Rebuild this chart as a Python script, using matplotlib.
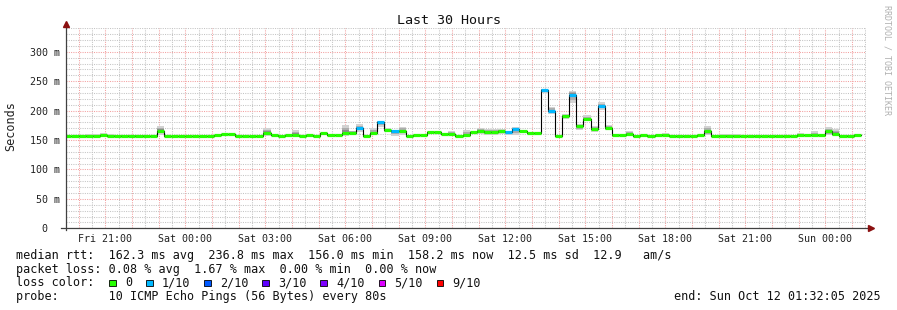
import datetime as dt
import matplotlib
matplotlib.use("Agg")
import matplotlib.pyplot as plt
import matplotlib.dates as mdates
from matplotlib.patches import Rectangle
from matplotlib.ticker import FuncFormatter, MultipleLocator

# --- data ----------------------------------------------------------------
graph_end = dt.datetime(2025, 10, 12, 1, 32, 5)
graph_start = graph_end - dt.timedelta(hours=30)
bin_start = dt.datetime(2025, 10, 10, 19, 28)
bin_minutes = 16

# median rtt per 16 min bin, ms
median_ms = [
    156.5, 156.5, 157.5, 157.5, 157.5, 158.0, 157.5, 157.5, 157.5, 157.5,
    157.5, 157.5, 157.0, 166.0, 156.2, 156.2, 156.2, 156.2, 156.2, 156.5,
    156.5, 158.0, 159.5, 159.5, 156.5, 156.5, 156.5, 156.5, 162.4, 158.0,
    156.0, 158.5, 159.3, 156.5, 158.0, 157.5, 161.3, 158.0, 158.0, 162.7,
    162.7, 171.0, 157.0, 162.0, 180.5, 167.5, 164.5, 166.0, 157.0, 158.5,
    158.5, 163.5, 163.5, 159.5, 159.5, 156.5, 158.0, 163.0, 166.0, 163.5,
    163.5, 166.0, 163.0, 168.5, 164.5, 162.0, 162.0, 235.5, 200.0, 157.0,
    190.5, 227.0, 173.0, 186.5, 169.5, 207.5, 171.0, 158.5, 158.5, 159.5,
    157.0, 158.5, 157.0, 158.0, 159.0, 157.0, 157.0, 157.0, 157.0, 158.0,
    164.5, 157.0, 157.0, 157.0, 157.0, 157.0, 157.0, 157.0, 157.0, 157.0,
    157.0, 157.0, 157.0, 159.0, 158.0, 159.0, 159.0, 164.5, 161.0, 157.5,
    157.5, 159.0,
]
# spread of the 10 pings (smoke), lowest and highest, ms
smoke_lo = [
    155.8, 155.8, 156.5, 156.5, 156.5, 156.5, 156.5, 156.5, 156.5, 156.5,
    156.5, 156.5, 156.3, 158.0, 155.5, 155.5, 155.5, 155.5, 155.5, 155.8,
    155.8, 157.0, 158.0, 158.0, 155.8, 156.0, 155.8, 155.8, 157.0, 157.0,
    155.5, 157.5, 156.0, 155.8, 157.0, 156.8, 160.0, 157.0, 157.0, 157.0,
    160.0, 163.0, 156.0, 159.0, 172.0, 164.0, 157.0, 158.0, 156.3, 157.5,
    157.5, 162.0, 162.0, 158.5, 158.0, 155.8, 157.0, 160.0, 160.0, 158.0,
    158.0, 160.0, 158.0, 158.0, 162.0, 160.5, 160.5, 230.0, 195.0, 156.0,
    185.0, 213.0, 167.0, 182.0, 164.0, 201.0, 167.0, 157.5, 157.5, 158.0,
    156.3, 157.5, 156.3, 157.0, 157.5, 156.3, 156.3, 156.3, 156.3, 157.0,
    158.0, 156.3, 156.5, 156.5, 156.5, 156.3, 156.3, 156.3, 156.3, 156.3,
    156.3, 156.3, 156.3, 158.0, 157.0, 157.0, 158.0, 158.0, 157.0, 156.8,
    156.8, 158.0,
]
smoke_hi = [
    157.5, 157.5, 158.5, 160.0, 160.0, 162.0, 160.0, 159.0, 158.5, 158.5,
    158.5, 158.5, 158.0, 174.0, 157.0, 157.0, 157.0, 157.0, 157.0, 157.5,
    157.5, 159.0, 161.0, 161.0, 157.5, 158.5, 157.5, 157.5, 170.0, 159.0,
    157.0, 159.5, 167.0, 157.5, 160.0, 158.5, 162.5, 159.0, 159.0, 175.5,
    166.0, 177.0, 158.0, 170.0, 183.0, 170.0, 166.0, 172.0, 158.0, 159.5,
    159.5, 165.0, 165.0, 160.5, 165.0, 157.5, 167.0, 165.0, 170.0, 169.0,
    169.0, 168.0, 166.0, 172.0, 167.0, 163.0, 163.0, 237.5, 206.0, 158.0,
    195.0, 234.0, 178.0, 192.0, 174.0, 214.0, 175.0, 159.5, 159.5, 166.0,
    158.0, 159.5, 158.0, 160.0, 162.0, 158.0, 158.0, 158.0, 158.0, 159.0,
    174.0, 158.0, 160.0, 160.0, 160.0, 158.0, 158.0, 158.0, 158.0, 158.0,
    158.0, 158.0, 158.0, 162.0, 159.0, 165.0, 160.0, 172.0, 168.0, 158.5,
    158.5, 160.0,
]
# lost pings out of 10 per bin
loss = [0] * 112
for i in [41, 44, 46, 62, 63, 67, 68, 71, 75]:
    loss[i] = 1

loss_levels = [0, 1, 2, 3, 4, 5, 9]
loss_labels = ["0", "1/10", "2/10", "3/10", "4/10", "5/10", "9/10"]
loss_colors = ["#26ff00", "#00b8ff", "#0059ff", "#5e00ff", "#7e00ff", "#dd00ff", "#ff0000"]

legend_lines = [
    "median rtt:  162.3 ms avg  236.8 ms max  156.0 ms min  158.2 ms now  12.5 ms sd  12.9   am/s",
    "packet loss: 0.08 % avg  1.67 % max  0.00 % min  0.00 % now",
    "loss color:",
    "probe:       10 ICMP Echo Pings (56 Bytes) every 80s",
]

# --- figure ----------------------------------------------------------------
W, H = 897, 310
plt.rcParams["font.family"] = ["DejaVu Sans Mono"]

def fx(px):
    return px / W

def fy(py):
    return 1 - py / H

fig = plt.figure(figsize=(W / 100, H / 100), dpi=100, facecolor="white")
ax = fig.add_axes([fx(66.2), fy(228.3), 800 / W, 200.1 / H])

step = bin_minutes / 1440.0
x0 = mdates.date2num(bin_start)
xs = [x0 + i * step for i in range(len(median_ms))]

# smoke: three shades, darkest closest to the median
for frac, col in [(1.0, "#d2d2d2"), (0.6, "#adadad"), (0.3, "#8a8a8a")]:
    bot = [m - (m - lo) * frac for m, lo in zip(median_ms, smoke_lo)]
    top = [m + (hi - m) * frac for m, hi in zip(median_ms, smoke_hi)]
    ax.bar(xs, [t - b for t, b in zip(top, bot)], bottom=bot, width=step,
           align="edge", color=col, linewidth=0, zorder=2)

# thin black median line
ax.step(xs + [xs[-1] + step], median_ms + [median_ms[-1]], where="post",
        color="black", lw=0.8, zorder=3)

# loss coloured median band
band_cols = [loss_colors[loss_levels.index(l)] for l in loss]
ax.hlines(median_ms, xs, [x + step for x in xs], colors=band_cols, lw=2.3,
          zorder=4)

ax.set_xlim(mdates.date2num(graph_start), mdates.date2num(graph_end))
ax.set_ylim(0, 340)

# grid
ax.xaxis.set_major_locator(mdates.HourLocator())
ax.xaxis.set_minor_locator(mdates.MinuteLocator(byminute=[30]))
ax.yaxis.set_major_locator(MultipleLocator(50))
ax.yaxis.set_minor_locator(MultipleLocator(10))
ax.set_axisbelow(True)
ax.grid(which="major", color="#f3a0a0", lw=0.75, linestyle=(0, (1, 1.2)))
ax.grid(which="minor", color="#c4c4c4", lw=0.75, linestyle=(0, (1, 1.2)))


def xlab(v, pos):
    hrs = int(round(v * 24))
    if hrs % 3:
        return ""
    return mdates.num2date(hrs / 24).strftime("%a %H:%M")


def ylab(v, pos):
    if v > 300:
        return ""
    return "  0" if v == 0 else "%3d m" % v


ax.xaxis.set_major_formatter(FuncFormatter(xlab))
ax.yaxis.set_major_formatter(FuncFormatter(ylab))
ax.tick_params(which="both", length=0, labelsize=7.2, colors="#222222")
ax.tick_params(axis="x", pad=4)
ax.tick_params(axis="y", pad=26)
for t in ax.get_yticklabels():
    t.set_ha("left")

for s in ax.spines.values():
    s.set_visible(False)
ax.plot([0, 0], [-0.01, 1.02], color="#404040", lw=0.9, transform=ax.transAxes,
        clip_on=False, zorder=5)
ax.plot([-0.006, 1.005], [0, 0], color="#404040", lw=0.9, transform=ax.transAxes,
        clip_on=False, zorder=5)
ax.plot([0], [1.022], marker="^", ms=4.2, color="#8b1010", transform=ax.transAxes,
        clip_on=False, zorder=6)
ax.plot([1.0055], [0], marker=">", ms=4.2, color="#8b1010", transform=ax.transAxes,
        clip_on=False, zorder=6)

# texts
fig.text(fx(448.5), fy(24), "Last 30 Hours", ha="center", va="baseline",
         fontsize=9.6, color="#111111")
fig.text(fx(11), fy(126), "Seconds", rotation=90, ha="center", va="center",
         fontsize=8.5, color="#222222")
fig.text(fx(887), fy(5), "RRDTOOL / TOBI OETIKER", rotation=270, ha="center",
         va="top", fontsize=6, color="#b0b0b0")

baselines = [258.7, 272.5, 286.5, 300.3]
for line, b in zip(legend_lines, baselines):
    fig.text(fx(16), fy(b), line, ha="left", va="baseline", fontsize=8.5,
             color="#111111")
fig.text(fx(881), fy(baselines[3]), "end: Sun Oct 12 01:32:05 2025", ha="right",
         va="baseline", fontsize=8.5, color="#111111")

# loss colour legend boxes
bx = 109.3
for lab, col in zip(loss_labels, loss_colors):
    fig.patches.append(Rectangle((fx(bx), fy(286.2)), 6.5 / W, 6.5 / H,
                                 transform=fig.transFigure, facecolor=col,
                                 edgecolor="black", lw=0.6))
    fig.text(fx(bx + 15.7), fy(baselines[2]), lab, ha="left", va="baseline",
             fontsize=8.5, color="#111111")
    bx += 15.7 + len(lab) * 7.1 + 14

fig.savefig("out.png", dpi=100, facecolor="white")
